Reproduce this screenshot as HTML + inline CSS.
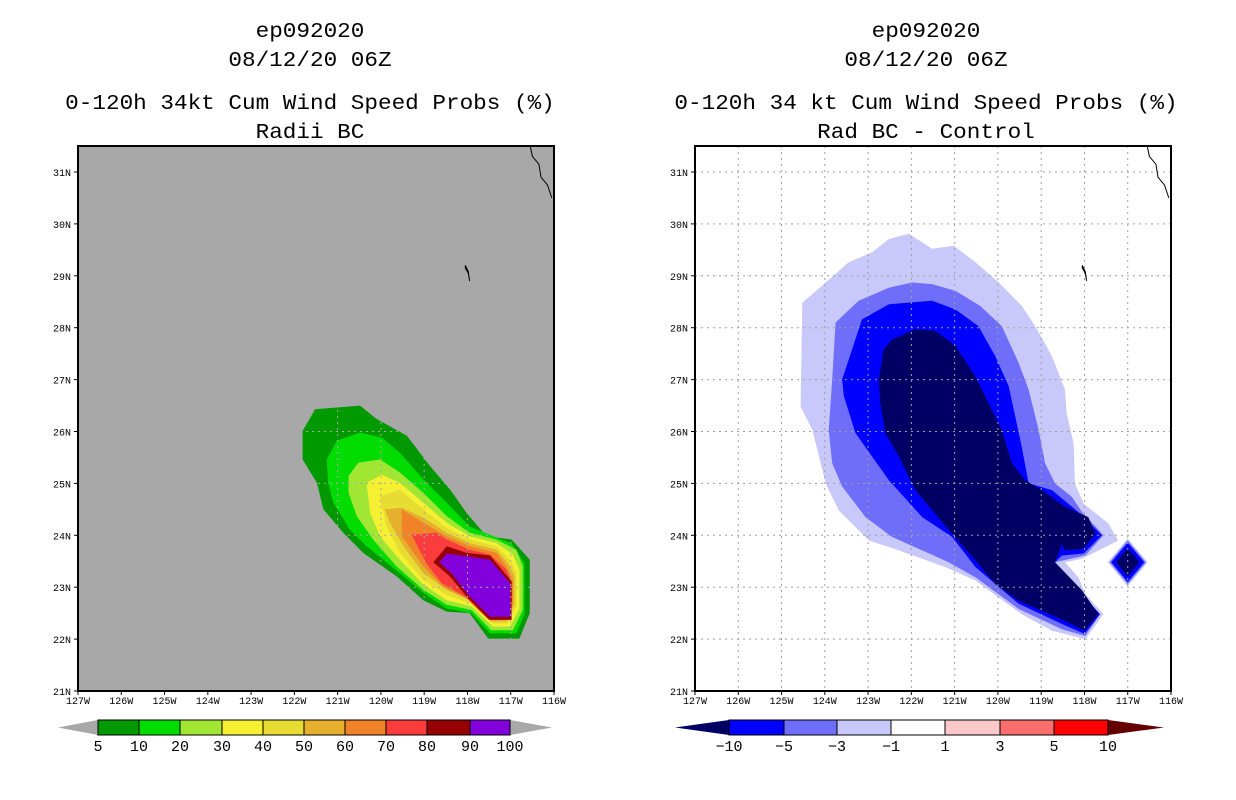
<!DOCTYPE html>
<html><head><meta charset="utf-8"><style>
html,body{margin:0;padding:0;background:#fff;}
svg{display:block;}
text{font-family:"Liberation Mono","DejaVu Sans Mono",monospace;fill:#000;}
</style></head><body>
<svg id="chart" width="1236" height="800" viewBox="0 0 1236 800"></svg>
<script>
// ---------- data ----------
const lonTicks=[127,126,125,124,123,122,121,120,119,118,117,116];
const latTicks=[21,22,23,24,25,26,27,28,29,30,31];
const leftLevels=[5,10,20,30,40,50,60,70,80,90,100];
const leftColors=['#009900','#00dc00','#a0e632','#f5f032','#e6dc32','#e6af2d','#f08228','#fa3c3c','#960000','#8200dc'];
// contours as [lonW, latN] pairs
const leftC5=[[121.52,26.43],[120.48,26.5],[120.1,26.24],[119.4,25.92],[118.87,25.34],[118.4,24.88],[118.02,24.43],[117.56,23.98],[116.98,23.92],[116.56,23.53],[116.56,22.5],[116.8,22.01],[117.52,22.01],[117.95,22.5],[118.48,22.53],[119.02,22.75],[119.64,23.21],[120.41,23.66],[120.87,24.05],[121.33,24.5],[121.48,25.01],[121.81,25.46],[121.81,26.01]];
const leftC10=[[121.02,25.82],[120.48,25.98],[119.98,25.88],[119.56,25.59],[119.02,25.08],[118.48,24.63],[117.95,24.17],[117.48,24.01],[116.98,23.84],[116.68,23.46],[116.68,22.5],[116.87,22.11],[117.48,22.11],[117.91,22.5],[118.48,22.59],[118.95,22.85],[119.56,23.27],[120.33,23.79],[120.72,24.11],[121.1,24.63],[121.22,25.01],[121.25,25.46]];
const leftC20=[[120.52,25.4],[120.02,25.46],[119.56,25.21],[119.02,24.82],[118.48,24.37],[117.95,24.05],[117.33,23.92],[116.87,23.72],[116.72,23.4],[116.72,22.56],[116.95,22.17],[117.45,22.17],[117.91,22.56],[118.48,22.66],[119.02,22.95],[119.64,23.4],[120.18,23.92],[120.56,24.37],[120.75,24.82],[120.75,25.14]];
const leftC30=[[120.33,25.01],[119.98,25.17],[119.56,25.01],[119.02,24.63],[118.48,24.24],[117.95,23.98],[117.33,23.85],[116.95,23.63],[116.8,23.34],[116.8,22.59],[117.02,22.24],[117.41,22.24],[117.91,22.63],[118.48,22.75],[119.02,23.05],[119.56,23.53],[120.02,23.98],[120.25,24.43]];
const leftC40=[[120.02,24.75],[119.56,24.88],[119.02,24.5],[118.48,24.14],[117.95,23.92],[117.33,23.79],[117.02,23.53],[116.87,23.27],[116.87,22.63],[117.06,22.3],[117.41,22.3],[117.95,22.69],[118.48,22.85],[119.02,23.14],[119.56,23.66],[119.87,24.17]];
const leftC50=[[119.91,24.5],[119.52,24.53],[119.02,24.34],[118.48,24.05],[117.95,23.85],[117.33,23.72],[117.06,23.46],[116.91,23.21],[116.91,22.66],[117.1,22.34],[117.45,22.34],[117.95,22.75],[118.48,22.95],[119.02,23.27],[119.48,23.79],[119.79,24.24]];
const leftC60=[[119.52,24.5],[119.02,24.24],[118.48,23.98],[117.95,23.79],[117.33,23.66],[117.1,23.4],[116.95,23.14],[116.95,22.69],[117.14,22.37],[117.48,22.37],[118.02,22.79],[118.56,23.01],[119.02,23.4],[119.52,23.98]];
const leftC70=[[119.29,24.01],[118.72,24.05],[118.48,23.92],[117.95,23.72],[117.48,23.63],[117.1,23.34],[116.97,23.08],[116.97,22.69],[117.18,22.38],[117.52,22.38],[118.06,22.82],[118.6,23.08],[118.95,23.46]];
const leftC80=[[118.79,23.48],[118.48,23.79],[118.02,23.66],[117.48,23.61],[116.98,23.11],[116.98,22.37],[117.49,22.37],[118.02,22.82],[118.41,23.21]];
const leftC90=[[118.65,23.48],[118.48,23.65],[118.02,23.6],[117.48,23.53],[117.02,23.08],[117.0,22.43],[117.48,22.43],[117.98,22.85],[118.37,23.27]];
const rightLevels=[-10,-5,-3,-1,1,3,5,10];
const rightColors=['#0000ff','#6e6efa','#c8c8fa','#ffffff','#fac8c8','#fa6e6e','#ff0000'];
const rightC1=[[122.52,29.71],[122.06,29.81],[121.52,29.52],[121.02,29.58],[120.52,29.26],[119.98,28.87],[119.45,28.42],[119.14,28.03],[118.75,27.45],[118.45,26.81],[118.41,26.35],[118.25,25.77],[118.22,25.0],[118.02,24.61],[117.45,24.23],[117.22,23.9],[118.06,23.55],[118.45,23.48],[118.14,23.19],[117.98,22.87],[117.56,22.48],[117.98,22.0],[118.75,22.16],[119.45,22.48],[120.52,23.13],[121.22,23.39],[122.29,23.71],[122.98,23.9],[123.68,24.48],[123.98,25.0],[124.29,26.03],[124.56,26.48],[124.52,28.48],[123.98,28.87],[123.45,29.26],[122.91,29.45]];
const rightC3=[[123.75,28.1],[123.22,28.52],[122.52,28.77],[121.98,28.87],[121.52,28.84],[120.98,28.71],[120.41,28.42],[119.91,28.03],[119.52,27.32],[119.29,26.81],[119.06,26.03],[118.91,25.39],[118.68,25.0],[118.29,24.74],[118.06,24.45],[117.56,24.0],[117.98,23.61],[118.68,23.48],[118.06,22.87],[117.64,22.48],[117.98,22.06],[118.52,22.19],[119.52,22.58],[120.52,23.19],[121.14,23.48],[121.75,23.71],[122.45,23.97],[123.06,24.35],[123.6,24.94],[123.83,25.39],[123.91,26.03],[123.83,27.0]];
const rightC5=[[123.6,27.0],[123.14,28.16],[122.52,28.45],[121.52,28.52],[120.98,28.35],[120.45,28.03],[120.06,27.45],[119.75,26.87],[119.6,26.29],[119.45,25.71],[119.29,25.0],[118.75,24.87],[118.06,24.39],[117.6,24.0],[118.02,23.65],[118.52,23.61],[118.68,23.48],[118.06,22.87],[117.64,22.48],[118.0,22.1],[118.52,22.29],[119.52,22.68],[120.52,23.39],[121.06,23.97],[121.75,24.35],[122.52,25.06],[123.29,25.97],[123.56,26.68]];
const rightC10=[[122.75,27.0],[122.64,27.58],[122.45,27.77],[121.91,27.97],[121.45,27.94],[120.98,27.65],[120.52,27.06],[120.22,26.55],[119.91,26.03],[119.68,25.39],[119.37,25.06],[118.98,24.87],[118.45,24.55],[117.91,24.35],[117.75,24.03],[118.02,23.74],[118.45,23.71],[118.52,23.84],[118.68,23.48],[118.06,22.94],[117.68,22.48],[118.0,22.16],[118.45,22.35],[119.52,22.74],[120.06,23.06],[120.52,23.52],[121.06,24.03],[121.91,24.87],[122.29,25.52],[122.6,25.97],[122.72,26.55]];
const diamondCenter=[117.0,23.48];
const diamondRadii=[0.46,0.42,0.38,0.27];
const coastline=[[116.55,31.5],[116.5,31.3],[116.35,31.15],[116.3,30.9],[116.15,30.75],[116.05,30.5]];
const island=[[118.05,29.2],[117.98,29.08],[117.95,28.9],[117.98,29.05],[118.05,29.15]];

// ---------- helpers ----------
const NS='http://www.w3.org/2000/svg';
const svg=document.getElementById('chart');
function mk(tag,attrs,parent){const e=document.createElementNS(NS,tag);for(const k in attrs)e.setAttribute(k,attrs[k]);(parent||svg).appendChild(e);return e;}
const PW=476,PH=545,Y0=146;
function xs(x0){return lon=>x0+(127-lon)*PW/11;}
function ys(lat){return 691-(lat-21)*519/10;}
function pts(arr,xf){return arr.map(p=>xf(p[0]).toFixed(1)+','+ys(p[1]).toFixed(1)).join(' ');}

function titles(cx,lines,g){
  const ys2=[37,66,109,138];
  lines.forEach((t,i)=>{
    const tx=mk('text',{x:cx,y:ys2[i],'text-anchor':'middle','font-size':21,textLength:t.length*13.6,lengthAdjust:'spacingAndGlyphs'},g);
    
    
    tx.textContent=t;
  });
}

function panel(x0,bg,name){
  const g=mk('g',{});
  
  
  const clipId=name+'-clip';
  const cp=mk('clipPath',{id:clipId},g);mk('rect',{x:x0,y:Y0,width:PW,height:PH},cp);
  const bgR=mk('rect',{x:x0,y:Y0,width:PW,height:PH,fill:bg},g);
  
  
  const inner=mk('g',{'clip-path':'url(#'+clipId+')'},g);
  return {g,inner,xf:xs(x0),x0};
}
function gridAxes(P,gridColor){
  const grid=mk('g',{stroke:gridColor,'stroke-width':1,'stroke-dasharray':'2,4'},P.inner);
  
  
  lonTicks.forEach(l=>{const x=P.xf(l);mk('line',{x1:x,y1:Y0,x2:x,y2:691},grid);});
  latTicks.forEach(l=>{const y=ys(l);mk('line',{x1:P.x0,y1:y,x2:P.x0+PW,y2:y},grid);});
  const c=mk('polyline',{points:pts(coastline,P.xf),fill:'none',stroke:'#000','stroke-width':1},P.inner);
  
  
  const isl=mk('polygon',{points:pts(island,P.xf),fill:'none',stroke:'#000','stroke-width':1},P.inner);
  
  
  const fr=mk('rect',{x:P.x0,y:Y0,width:PW,height:PH,fill:'none',stroke:'#000','stroke-width':2},P.g);
  
  
  lonTicks.forEach(l=>{const x=P.xf(l);mk('line',{x1:x,y1:691,x2:x,y2:695,stroke:'#000'},P.g);
    const t=mk('text',{x:x,y:704,'text-anchor':'middle','font-size':10,textLength:24,lengthAdjust:'spacingAndGlyphs'},P.g);
    
    
    t.textContent=l+'W';});
  latTicks.forEach(l=>{const y=ys(l);mk('line',{x1:P.x0-4,y1:y,x2:P.x0,y2:y,stroke:'#000'},P.g);
    const t=mk('text',{x:P.x0-7,y:y+4,'text-anchor':'end','font-size':10,textLength:18,lengthAdjust:'spacingAndGlyphs'},P.g);
    
    
    t.textContent=l+'N';});
}

// ---------- left panel ----------
const L=panel(78,'#a8a8a8','left-map-panel');
const leftContours=[leftC5,leftC10,leftC20,leftC30,leftC40,leftC50,leftC60,leftC70,leftC80,leftC90];
leftContours.forEach((c,i)=>{
  const p=mk('polygon',{points:pts(c,L.xf),fill:leftColors[i]},L.inner);
  
  
});
gridAxes(L,'#a8a8a8');
titles(310,['ep092020','08/12/20 06Z','0-120h 34kt Cum Wind Speed Probs (%)','Radii BC'],svg);

// ---------- right panel ----------
const R=panel(695,'#ffffff','right-map-panel');
const rightContours=[rightC1,rightC3,rightC5,rightC10];
const rightFill=['#c8c8fa','#6e6efa','#0000ff','#000064'];
rightContours.forEach((c,i)=>{
  const p=mk('polygon',{points:pts(c,R.xf),fill:rightFill[i]},R.inner);
  
  
});
diamondRadii.forEach((r,i)=>{
  const [cl,ca]=diamondCenter;
  const d=[[cl-r,ca],[cl,ca+r],[cl+r,ca],[cl,ca-r]];
  const p=mk('polygon',{points:pts(d,R.xf),fill:rightFill[i]},R.inner);
  
  
});
gridAxes(R,'#a0a0a0');
titles(926,['ep092020','08/12/20 06Z','0-120h 34 kt Cum Wind Speed Probs (%)','Rad BC - Control'],svg);

// ---------- colorbars ----------
function colorbar(name,edges,colors,lowTip,lowColor,highTip,highColor,labels){
  const g=mk('g',{});
  
  
  const y1=720,y2=735,ym=727.5;
  mk('polygon',{points:`${lowTip},${ym} ${edges[0]},${y1} ${edges[0]},${y2}`,fill:lowColor},g);
  mk('polygon',{points:`${highTip},${ym} ${edges[edges.length-1]},${y1} ${edges[edges.length-1]},${y2}`,fill:highColor},g);
  colors.forEach((c,i)=>{
    const r=mk('rect',{x:edges[i],y:y1,width:edges[i+1]-edges[i],height:y2-y1,fill:c,stroke:'#000','stroke-width':1},g);
    
    
  });
  labels.forEach((l,i)=>{
    const t=mk('text',{x:edges[i],y:751,'text-anchor':'middle','font-size':15},g);
    
    
    t.textContent=l;
  });
}
colorbar('left-colorbar',[98,139,180,222,263,304,345,386,427,470,510],leftColors,58,'#a8a8a8',552,'#a8a8a8',leftLevels.map(String));
colorbar('right-colorbar',[729,784,837,891,945,1000,1054,1108],rightColors,675,'#000064',1164,'#640000',rightLevels.map(v=>v<0?'\u2212'+(-v):String(v)));
</script>
</body></html>
